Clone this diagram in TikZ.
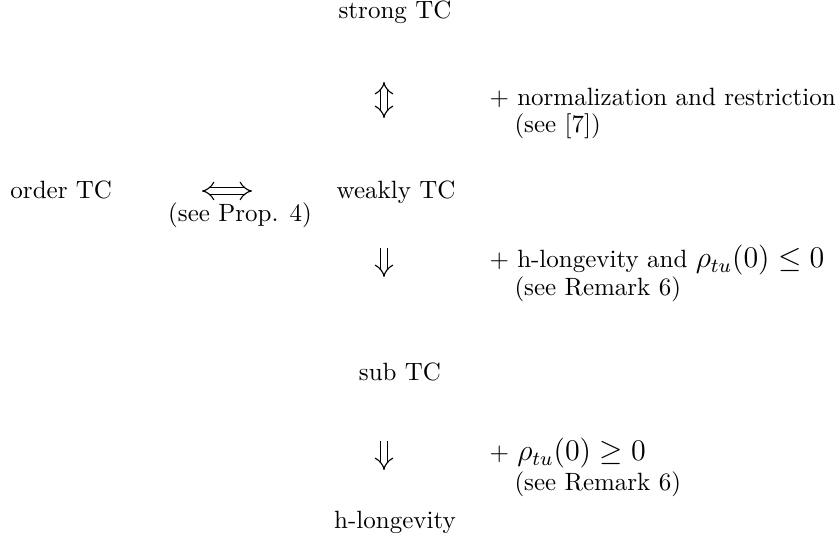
\documentclass[tikz,border=0pt]{standalone}
\usepackage{amssymb}
\usepackage{mathtools}
\usepackage{tikz}
\usetikzlibrary{arrows.meta}

\newcommand{\bigmath}[1]{{\large$#1$}}

\begin{document}
\begin{tikzpicture}[x=0.4pt, y=-0.4pt,
        impl/.style={double, double distance=2.2pt, line width=0.45pt},
        txt/.style={inner sep=0pt, anchor=base},
        note/.style={inner sep=0pt, anchor=base west}]
            \useasboundingbox (0, 0) rectangle (835, 538);

            % Nodes
            \node[txt] (strong) at (395, 19) {strong TC};
            \node[note] (order) at (10, 199) {order TC};
            \node[txt] (weak) at (396, 199) {weakly TC};
            \node[txt] (sub) at (400, 381) {sub TC};
            \node[txt] (hlong) at (395, 529) {h-longevity};

            % Arrow ends
            \coordinate (e1) at (384, 82);
            \coordinate (e2) at (384, 118);
            \coordinate (o1) at (202, 191);
            \coordinate (o2) at (252, 191);
            \coordinate (w1) at (384, 248);
            \coordinate (w2) at (384, 277);
            \coordinate (s1) at (384, 441);
            \coordinate (s2) at (384, 470);

            % Additional labels
            \node[note] (norm) at (489, 106) {$+$ normalization and restriction};
            \node[note] (ref7) at (514, 133) {(see [7])};
            \node[txt] (prop) at (240, 222) {(see Prop. 4)};
            \node[note] (long) at (489, 268) {$+$ h-longevity and \bigmath{\rho_{tu}(0) \leq 0}};
            \node[note] (rem1) at (514, 296) {(see Remark 6)};
            \node[note] (rho) at (489, 461) {$+$ \bigmath{\rho_{tu}(0) \geq 0}};
            \node[note] (rem2) at (514, 491) {(see Remark 6)};

            % Edges
            \draw[impl, {Implies}-{Implies}] (e1) -- (e2);
            \draw[impl, {Implies}-{Implies}] (o1) -- (o2);
            \draw[impl, -{Implies}] (w1) -- (w2);
            \draw[impl, -{Implies}] (s1) -- (s2);
        \end{tikzpicture}
\end{document}
